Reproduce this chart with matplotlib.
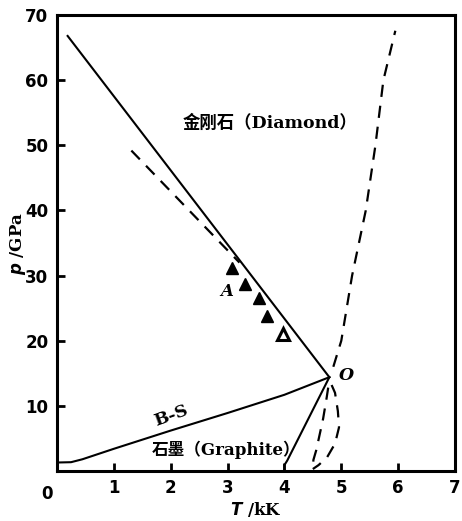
import matplotlib.pyplot as plt

# solid boundaries
diam_T = [0.19, 4.79]
diam_p = [66.8, 14.4]
bs_T = [0.0, 0.25, 0.45, 1.0, 2.0, 3.0, 4.0, 4.79]
bs_p = [1.3, 1.35, 1.8, 3.4, 6.2, 8.9, 11.7, 14.4]
gl_T = [4.0, 4.0, 4.05, 4.79]
gl_p = [0.0, 0.9, 1.6, 14.4]

# dashed curves
d1_T = [1.31, 3.21]
d1_p = [49.2, 32.0]
d2_T = [4.86, 5.0, 5.19, 5.43, 5.6, 5.74, 5.95]
d2_p = [16.0, 20.0, 30.0, 40.0, 50.0, 60.0, 67.6]
inner_T = [4.77, 4.74, 4.68, 4.61, 4.56, 4.51, 4.5]
inner_p = [12.8, 11.1, 8.0, 5.2, 3.2, 1.7, 0.3]
outer_T = [4.83, 4.89, 4.94, 4.96, 4.89, 4.75, 4.6, 4.5]
outer_p = [13.2, 12.0, 9.2, 6.7, 4.2, 2.1, 0.9, 0.3]

# triangle points
tri_T = [3.08, 3.3, 3.55, 3.69, 3.97]
tri_p = [31.2, 28.7, 26.5, 23.8, 21.1]

fig = plt.figure(figsize=(4.62, 5.21), dpi=100)
ax = fig.add_axes([0.123, 0.096, 0.862, 0.875])

ax.plot(diam_T, diam_p, color='black', lw=1.5)
ax.plot(bs_T, bs_p, color='black', lw=1.5)
ax.plot(gl_T, gl_p, color='black', lw=1.5)
for T, p in [(d1_T, d1_p), (d2_T, d2_p), (inner_T, inner_p), (outer_T, outer_p)]:
    ax.plot(T, p, color='black', lw=1.6, dashes=(5.5, 4))

ax.plot(tri_T[:-1], tri_p[:-1], '^', color='black', ms=9, ls='none')
ax.plot(tri_T[-1:], tri_p[-1:], '^', mfc='white', mec='black', mew=2.2, ms=8.5, ls='none')

ax.text(3.74, 53.4, '金刚石（Diamond）', family=['DejaVu Serif', 'Noto Sans CJK SC'],
        fontsize=12.5, fontweight='bold', ha='center', va='center')
ax.text(2.97, 3.2, '石墨（Graphite）', family=['DejaVu Serif', 'Noto Sans CJK SC'],
        fontsize=12, fontweight='bold', ha='center', va='center')
ax.text(2.0, 8.4, 'B-S', family='DejaVu Serif', fontsize=12.5, fontweight='bold',
        rotation=20, ha='center', va='center')
ax.text(2.99, 27.5, 'A', family='DejaVu Serif', fontsize=12, fontweight='bold',
        style='italic', ha='center', va='center')
ax.text(5.09, 14.6, 'O', family='DejaVu Serif', fontsize=12.5, fontweight='bold',
        style='italic', ha='center', va='center')

ax.set_xlim(0, 7)
ax.set_ylim(0, 70)
ax.set_xticks(range(1, 8))
ax.set_yticks(range(10, 71, 10))
ax.tick_params(direction='in', length=6, width=2, labelsize=12, pad=6)
for lab in ax.get_xticklabels() + ax.get_yticklabels():
    lab.set_fontweight('bold')
ax.text(-0.01, -0.03, '0', transform=ax.transAxes, fontsize=12, fontweight='bold',
        ha='right', va='top')
for s in ax.spines.values():
    s.set_linewidth(2.2)

ax.set_xlabel(r'$\boldsymbol{T}$ /kK', fontsize=12, fontweight='bold', family='DejaVu Serif', labelpad=2)
ax.set_ylabel(r'$\boldsymbol{p}$ /GPa', fontsize=12, fontweight='bold', family='DejaVu Serif', labelpad=-2)

fig.savefig('out.png', dpi=100)
